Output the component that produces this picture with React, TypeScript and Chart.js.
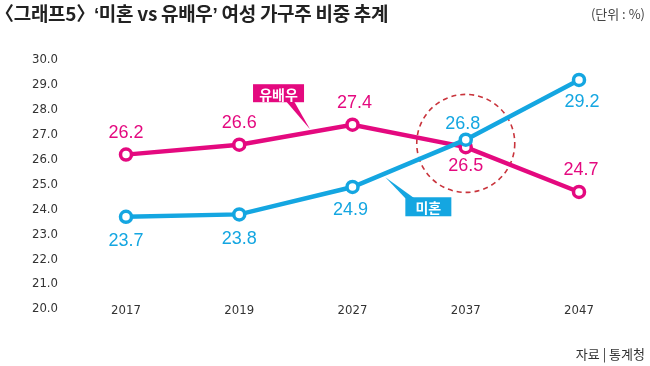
import React, { useEffect, useRef } from 'react';
import { Chart, registerables } from 'chart.js';

Chart.register(...registerables);

// ---- data ----
const years = ['2017', '2019', '2027', '2037', '2047'];
const unmarried = [23.7, 23.8, 24.9, 26.8, 29.2]; // 미혼
const married = [26.2, 26.6, 27.4, 26.5, 24.7]; // 유배우
const yMin = 20;
const yMax = 30;
const yStep = 1;

const titleParts = ['〈', '그래프5', '〉', ' ', '‘', '미혼 vs 유배우', '’', ' 여성 가구주 비중 추계'];
const unitText = '(단위 : %)';
const sourceText = '자료 | 통계청';
const marriedName = '유배우';
const unmarriedName = '미혼';

const PINK = '#e4097f';
const BLUE = '#14a6e1';
const KR = "'Noto Sans CJK KR', 'Noto Sans', sans-serif";
const NUM = "'Liberation Sans', Arial, sans-serif";
const NARROW = "'Liberation Sans Narrow', 'DejaVu Sans Condensed', 'Liberation Sans', sans-serif";

// label placement (styling): dx, dy from point
const labelPlace = [
  // unmarried
  [[0, 24], [0, 25], [-2, 23], [-3, -16], [3, 22]],
  // married
  [[0, -22], [0, -22], [2, -22], [0, 19], [2, -22]],
];

const overlayPlugin = {
  id: 'overlay',
  beforeDatasetsDraw(chart: any) {
    const ctx = chart.ctx;
    const a = chart.getDatasetMeta(0).data[3];
    const b = chart.getDatasetMeta(1).data[3];
    const cx = (a.x + b.x) / 2;
    const cy = (a.y + b.y) / 2;
    ctx.save();
    ctx.beginPath();
    ctx.setLineDash([5, 4]);
    ctx.lineWidth = 1.6;
    ctx.strokeStyle = '#c9343c';
    ctx.arc(cx, cy, 49, 0, Math.PI * 2);
    ctx.stroke();
    ctx.restore();
  },
  afterDatasetsDraw(chart: any) {
    const ctx = chart.ctx;
    ctx.save();
    // value labels
    [0, 1].forEach((di) => {
      const meta = chart.getDatasetMeta(di);
      const ds = chart.data.datasets[di];
      ctx.fillStyle = di === 0 ? BLUE : PINK;
      ctx.font = `18px ${NUM}`;
      ctx.textAlign = 'center';
      ctx.textBaseline = 'middle';
      meta.data.forEach((pt: any, i: number) => {
        const [dx, dy] = labelPlace[di][i];
        ctx.fillText(Number(ds.data[i]).toFixed(1), pt.x + dx, pt.y + dy);
      });
    });

    // callout: married (pink)
    const m = chart.getDatasetMeta(1).data;
    const f1 = 0.625;
    const tipP = { x: m[1].x + (m[2].x - m[1].x) * f1, y: m[1].y + (m[2].y - m[1].y) * f1 - 3 };
    const pb = { x: tipP.x - 57, y: tipP.y - 45, w: 51, h: 18 };
    ctx.fillStyle = PINK;
    ctx.beginPath();
    ctx.moveTo(tipP.x, tipP.y);
    ctx.lineTo(pb.x + 33, pb.y + pb.h - 1);
    ctx.lineTo(pb.x + 41, pb.y + pb.h - 1);
    ctx.closePath();
    ctx.fill();
    ctx.fillRect(pb.x, pb.y, pb.w, pb.h);
    ctx.fillStyle = '#ffffff';
    ctx.font = `bold 14px ${KR}`;
    ctx.textAlign = 'center';
    ctx.textBaseline = 'middle';
    ctx.fillText(marriedName, pb.x + pb.w / 2, pb.y + pb.h / 2 + 1);

    // callout: unmarried (blue)
    const u = chart.getDatasetMeta(0).data;
    const f2 = 0.29;
    const tipU = { x: u[2].x + (u[3].x - u[2].x) * f2, y: u[2].y + (u[3].y - u[2].y) * f2 + 4 };
    const bb = { x: tipU.x + 20, y: tipU.y + 20, w: 46, h: 19 };
    ctx.fillStyle = BLUE;
    ctx.beginPath();
    ctx.moveTo(tipU.x, tipU.y);
    ctx.lineTo(bb.x, bb.y + 1);
    ctx.lineTo(bb.x + 9, bb.y + 1);
    ctx.closePath();
    ctx.fill();
    ctx.fillRect(bb.x, bb.y, bb.w, bb.h);
    ctx.fillStyle = '#ffffff';
    ctx.fillText(unmarriedName, bb.x + bb.w / 2, bb.y + bb.h / 2 + 1);
    ctx.restore();
  },
};

function ChartCanvas() {
  const ref = useRef<HTMLCanvasElement | null>(null);
  useEffect(() => {
    if (!ref.current) return;
    const chart = new Chart(ref.current, {
      type: 'line',
      data: {
        labels: years,
        datasets: [
          {
            label: unmarriedName,
            data: unmarried,
            borderColor: BLUE,
            backgroundColor: '#ffffff',
            borderWidth: 4.5,
            pointRadius: 5.5,
            pointBorderWidth: 3.5,
            pointBackgroundColor: '#ffffff',
            pointBorderColor: BLUE,
            tension: 0,
          },
          {
            label: marriedName,
            data: married,
            borderColor: PINK,
            backgroundColor: '#ffffff',
            borderWidth: 4.5,
            pointRadius: 5.5,
            pointBorderWidth: 3.5,
            pointBackgroundColor: '#ffffff',
            pointBorderColor: PINK,
            tension: 0,
          },
        ],
      },
      options: {
        animation: false,
        responsive: false,
        maintainAspectRatio: false,
        layout: { padding: { left: 0, right: 71, top: 60, bottom: 57 } },
        plugins: {
          legend: { display: false },
          tooltip: { enabled: false },
          title: { display: false },
        },
        scales: {
          x: {
            type: 'category',
            position: { y: yMin },
            offset: false,
            grid: { display: false, drawTicks: false },
            border: { display: false },
            ticks: {
              padding: -6,
              color: '#333333',
              font: { family: NARROW, size: 13 },
              maxRotation: 0,
              autoSkip: false,
            },
          },
          y: {
            min: yMin,
            max: yMax,
            grid: { display: false, drawTicks: false },
            border: { display: false },
            ticks: {
              stepSize: yStep,
              padding: 68,
              color: '#333333',
              font: { family: NARROW, size: 13 },
              callback: (v: any) => Number(v).toFixed(1),
            },
            afterFit: (s: any) => {
              s.width = 126;
              s.paddingTop = 0;
              s.paddingBottom = 0;
            },
          },
        },
      },
      plugins: [overlayPlugin],
    } as any);
    return () => chart.destroy();
  }, []);
  return <canvas ref={ref} width={650} height={366} style={{ display: 'block', width: 650, height: 366 }} />;
}

export default function App() {
  return (
    <div style={{ position: 'absolute', left: 0, top: 0, width: 650, height: 366, background: '#ffffff', overflow: 'hidden' }}>
      <ChartCanvas />
      <div
        style={{
          position: 'absolute',
          left: 0,
          top: 0,
          fontFamily: KR,
          fontWeight: 700,
          fontSize: 19,
          lineHeight: '26px',
          letterSpacing: '-0.3px',
          color: '#222222',
          whiteSpace: 'nowrap',
        }}
      >
        <span style={{ marginLeft: -5 }}>{titleParts[0]}</span>
        <span>{titleParts[1]}</span>
        <span style={{ marginRight: -5 }}>{titleParts[2]}</span>
        <span>{titleParts[3]}</span>
        <span style={{ fontFamily: NUM }}>{titleParts[4]}</span>
        <span>{titleParts[5]}</span>
        <span style={{ fontFamily: NUM }}>{titleParts[6]}</span>
        <span>{titleParts[7]}</span>
      </div>
      <div
        style={{
          position: 'absolute',
          right: 5,
          top: 4,
          fontFamily: KR,
          fontSize: 13,
          lineHeight: '20px',
          color: '#444444',
          whiteSpace: 'nowrap',
        }}
      >
        {unitText}
      </div>
      <div
        style={{
          position: 'absolute',
          right: 5,
          top: 344,
          fontFamily: KR,
          fontSize: 13,
          lineHeight: '20px',
          color: '#333333',
          whiteSpace: 'nowrap',
        }}
      >
        {sourceText}
      </div>
    </div>
  );
}
